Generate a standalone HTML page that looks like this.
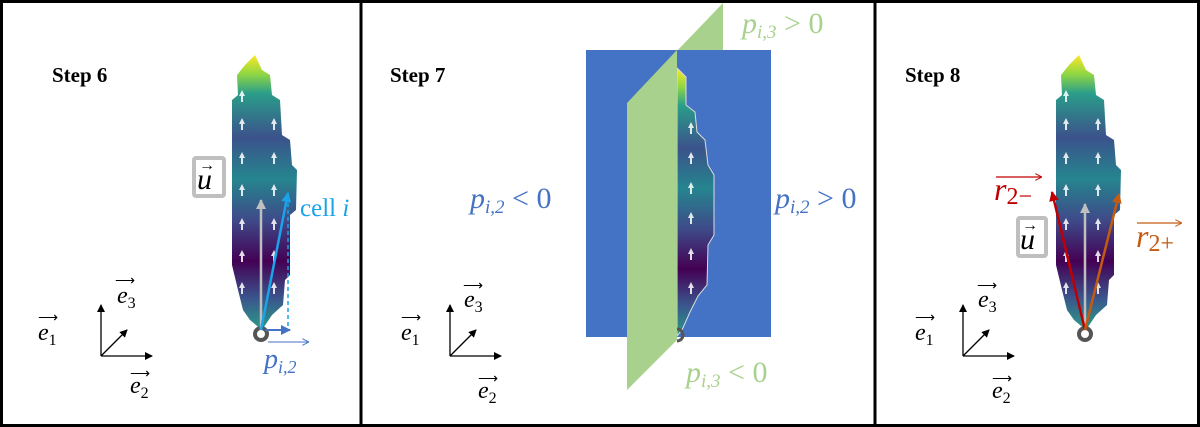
<!DOCTYPE html>
<html><head><meta charset="utf-8"><style>
html,body{margin:0;padding:0;background:#fff}
svg{display:block}
text{font-family:"Liberation Serif",serif}
</style></head><body>
<svg width="1200" height="427" viewBox="0 0 1200 427" xmlns="http://www.w3.org/2000/svg">
<defs>
<linearGradient id="vg" x1="0" y1="0" x2="0" y2="1">
<stop offset="0" stop-color="#fde725"/>
<stop offset="0.07" stop-color="#8fd744"/>
<stop offset="0.14" stop-color="#2a9d8a"/>
<stop offset="0.3" stop-color="#3b528b"/>
<stop offset="0.45" stop-color="#25858e"/>
<stop offset="0.6" stop-color="#3e4a89"/>
<stop offset="0.75" stop-color="#440154"/>
<stop offset="0.88" stop-color="#3b528b"/>
<stop offset="1" stop-color="#2a9d8a"/>
</linearGradient>
<marker id="ab" markerWidth="8" markerHeight="8" refX="7" refY="4" orient="auto" markerUnits="userSpaceOnUse"><path d="M0,0 L8,4 L0,8z" fill="#000"/></marker>
<marker id="ag" markerWidth="10" markerHeight="10" refX="9" refY="5" orient="auto" markerUnits="userSpaceOnUse"><path d="M0,0 L10,5 L0,10z" fill="#bfbfbf"/></marker>
<marker id="ac" markerWidth="10" markerHeight="10" refX="9" refY="5" orient="auto" markerUnits="userSpaceOnUse"><path d="M0,0 L10,5 L0,10z" fill="#1aa3e8"/></marker>
<marker id="abl" markerWidth="10" markerHeight="10" refX="9" refY="5" orient="auto" markerUnits="userSpaceOnUse"><path d="M0,0 L10,5 L0,10z" fill="#4472c4"/></marker>
<marker id="ar" markerWidth="10" markerHeight="10" refX="9" refY="5" orient="auto" markerUnits="userSpaceOnUse"><path d="M0,0 L10,5 L0,10z" fill="#c00000"/></marker>
<marker id="ao" markerWidth="10" markerHeight="10" refX="9" refY="5" orient="auto" markerUnits="userSpaceOnUse"><path d="M0,0 L10,5 L0,10z" fill="#c55a11"/></marker>
<marker id="sbl" markerWidth="7" markerHeight="7" refX="6" refY="3.5" orient="auto" markerUnits="userSpaceOnUse"><path d="M0,0 L7,3.5 L0,7" fill="none" stroke="#4472c4"/></marker>
<marker id="sr" markerWidth="7" markerHeight="7" refX="6" refY="3.5" orient="auto" markerUnits="userSpaceOnUse"><path d="M0,0 L7,3.5 L0,7" fill="none" stroke="#c00000"/></marker>
<marker id="so" markerWidth="7" markerHeight="7" refX="6" refY="3.5" orient="auto" markerUnits="userSpaceOnUse"><path d="M0,0 L7,3.5 L0,7" fill="none" stroke="#c55a11"/></marker>
<g id="leaf">
<polygon points="245,65 255,55 262,70 270,75 272,95 280,100 282,135 290,140 292,165 297,170 296,210 290,215 290,275 285,280 283,305 272,315 262,330 250,320 243,310 238,290 232,265 232,100 238,95 237,75" fill="url(#vg)"/>
<g fill="#fff" opacity="0.85">
<path d="M242,90 l-3,6 h2 v6 h2 v-6 h2z"/>
<path d="M242,118 l-3,6 h2 v6 h2 v-6 h2z"/><path d="M274,118 l-3,6 h2 v6 h2 v-6 h2z"/>
<path d="M242,152 l-3,6 h2 v6 h2 v-6 h2z"/><path d="M274,152 l-3,6 h2 v6 h2 v-6 h2z"/>
<path d="M242,184 l-3,6 h2 v6 h2 v-6 h2z"/><path d="M274,184 l-3,6 h2 v6 h2 v-6 h2z"/>
<path d="M242,218 l-3,6 h2 v6 h2 v-6 h2z"/><path d="M274,218 l-3,6 h2 v6 h2 v-6 h2z"/>
<path d="M242,250 l-3,6 h2 v6 h2 v-6 h2z"/><path d="M274,250 l-3,6 h2 v6 h2 v-6 h2z"/>
<path d="M242,282 l-3,6 h2 v6 h2 v-6 h2z"/><path d="M274,282 l-3,6 h2 v6 h2 v-6 h2z"/>
</g>
<circle cx="261" cy="334" r="6" fill="none" stroke="#555" stroke-width="4"/>
</g>
<g id="axes" stroke="#000" stroke-width="1.3" fill="none">
<line x1="101" y1="356" x2="101" y2="305" marker-end="url(#ab)"/>
<line x1="101" y1="356" x2="152" y2="356" marker-end="url(#ab)"/>
<line x1="101" y1="356" x2="127" y2="330" marker-end="url(#ab)"/>
</g>
</defs>

<rect x="1.5" y="1.5" width="1197" height="424" fill="none" stroke="#000" stroke-width="3"/>
<line x1="361" y1="0" x2="361" y2="427" stroke="#000" stroke-width="3"/>
<line x1="875" y1="0" x2="875" y2="427" stroke="#000" stroke-width="3"/>

<!-- Step 6 -->
<text x="52" y="82" font-size="21" font-weight="bold">Step 6</text>
<use href="#leaf"/>
<line x1="261" y1="330" x2="261" y2="200" stroke="#bfbfbf" stroke-width="2.5" marker-end="url(#ag)"/>
<line x1="261" y1="330" x2="288" y2="193" stroke="#1aa3e8" stroke-width="2.5" marker-end="url(#ac)"/>
<line x1="288" y1="203" x2="288" y2="330" stroke="#1aa3e8" stroke-width="1.5" stroke-dasharray="4,3"/>
<line x1="265" y1="330" x2="290" y2="330" stroke="#4472c4" stroke-width="2" marker-end="url(#abl)"/>
<rect x="194" y="158" width="30" height="38" fill="#fff" stroke="#bfbfbf" stroke-width="4" rx="2"/>
<text x="197" y="189" font-size="30" font-style="italic">u</text>
<text x="199" y="170" font-size="16">→</text>
<text x="300" y="216" font-size="25" fill="#1aa3e8">cell <tspan font-style="italic">i</tspan></text>
<line x1="268" y1="342" x2="308" y2="342" stroke="#4472c4" stroke-width="1" marker-end="url(#sbl)"/>
<text x="264" y="368" font-size="28" fill="#4472c4" font-style="italic">p<tspan font-size="18" dy="5">i,2</tspan></text>
<use href="#axes"/>
<text x="38" y="340" font-size="24" font-style="italic">e<tspan font-size="16" dy="5" font-style="normal">1</tspan></text>
<text x="38" y="322" font-size="14">⟶</text>
<text x="117" y="303" font-size="24" font-style="italic">e<tspan font-size="16" dy="5" font-style="normal">3</tspan></text>
<text x="115" y="285" font-size="14">⟶</text>
<text x="130" y="393" font-size="24" font-style="italic">e<tspan font-size="16" dy="5" font-style="normal">2</tspan></text>
<text x="130" y="378" font-size="14">⟶</text>

<!-- Step 7 -->
<text x="390" y="82" font-size="21" font-weight="bold">Step 7</text>
<polygon points="627,103 723,3 723,290 627,390" fill="#a9d18e"/>
<rect x="586" y="50" width="185" height="287" fill="#4472c4"/>
<polygon points="677,68 686,77 686,105 695,112 697,132 705,140 708,165 714,175 714,235 708,245 707,285 698,296 690,312 682,330 677,336" fill="url(#vg)" stroke="#ddd" stroke-width="1"/>
<g fill="#fff" opacity="0.85">
<path d="M691,122 l-3,6 h2 v6 h2 v-6 h2z"/><path d="M691,152 l-3,6 h2 v6 h2 v-6 h2z"/>
<path d="M691,182 l-3,6 h2 v6 h2 v-6 h2z"/><path d="M691,212 l-3,6 h2 v6 h2 v-6 h2z"/>
<path d="M691,248 l-3,6 h2 v6 h2 v-6 h2z"/><path d="M691,282 l-3,6 h2 v6 h2 v-6 h2z"/>
</g>
<path d="M677,329 a6,6 0 1,1 0,12" fill="none" stroke="#555" stroke-width="3"/>
<polygon points="627,103 677,50 677,340 627,390" fill="#a9d18e"/>
<text x="742" y="33" font-size="30" fill="#a9d18e"><tspan font-style="italic">p</tspan><tspan font-size="19" dy="5" font-style="italic">i,3</tspan><tspan dy="-5"> &gt; 0</tspan></text>
<text x="686" y="382" font-size="30" fill="#a9d18e"><tspan font-style="italic">p</tspan><tspan font-size="19" dy="5" font-style="italic">i,3</tspan><tspan dy="-5"> &lt; 0</tspan></text>
<text x="470" y="208" font-size="30" fill="#4472c4"><tspan font-style="italic">p</tspan><tspan font-size="19" dy="5" font-style="italic">i,2</tspan><tspan dy="-5"> &lt; 0</tspan></text>
<text x="775" y="208" font-size="30" fill="#4472c4"><tspan font-style="italic">p</tspan><tspan font-size="19" dy="5" font-style="italic">i,2</tspan><tspan dy="-5"> &gt; 0</tspan></text>
<use href="#axes" x="349"/>
<text x="401" y="340" font-size="24" font-style="italic">e<tspan font-size="16" dy="5" font-style="normal">1</tspan></text>
<text x="401" y="322" font-size="14">⟶</text>
<text x="464" y="307" font-size="24" font-style="italic">e<tspan font-size="16" dy="5" font-style="normal">3</tspan></text>
<text x="463" y="290" font-size="14">⟶</text>
<text x="478" y="398" font-size="24" font-style="italic">e<tspan font-size="16" dy="5" font-style="normal">2</tspan></text>
<text x="478" y="383" font-size="14">⟶</text>

<!-- Step 8 -->
<text x="905" y="82" font-size="21" font-weight="bold">Step 8</text>
<use href="#leaf" x="824"/>
<line x1="1085" y1="330" x2="1085" y2="204" stroke="#bfbfbf" stroke-width="2.5" marker-end="url(#ag)"/>
<line x1="1085" y1="330" x2="1052" y2="192" stroke="#c00000" stroke-width="2.5" marker-end="url(#ar)"/>
<line x1="1085" y1="330" x2="1119" y2="194" stroke="#c55a11" stroke-width="2.5" marker-end="url(#ao)"/>
<rect x="1018" y="218" width="28" height="38" fill="#fff" stroke="#bfbfbf" stroke-width="4" rx="2"/>
<text x="1020" y="249" font-size="30" font-style="italic">u</text>
<text x="1022" y="230" font-size="16">→</text>
<line x1="996" y1="177" x2="1041" y2="177" stroke="#c00000" stroke-width="1.2" marker-end="url(#sr)"/>
<text x="994" y="200" font-size="32" fill="#c00000"><tspan font-style="italic">r</tspan><tspan font-size="24" dy="4">2−</tspan></text>
<line x1="1137" y1="223" x2="1181" y2="223" stroke="#c55a11" stroke-width="1.2" marker-end="url(#so)"/>
<text x="1136" y="247" font-size="32" fill="#c55a11"><tspan font-style="italic">r</tspan><tspan font-size="24" dy="4">2+</tspan></text>
<use href="#axes" x="862"/>
<text x="915" y="340" font-size="24" font-style="italic">e<tspan font-size="16" dy="5" font-style="normal">1</tspan></text>
<text x="915" y="322" font-size="14">⟶</text>
<text x="978" y="307" font-size="24" font-style="italic">e<tspan font-size="16" dy="5" font-style="normal">3</tspan></text>
<text x="977" y="290" font-size="14">⟶</text>
<text x="992" y="398" font-size="24" font-style="italic">e<tspan font-size="16" dy="5" font-style="normal">2</tspan></text>
<text x="992" y="383" font-size="14">⟶</text>
</svg>
</body></html>
